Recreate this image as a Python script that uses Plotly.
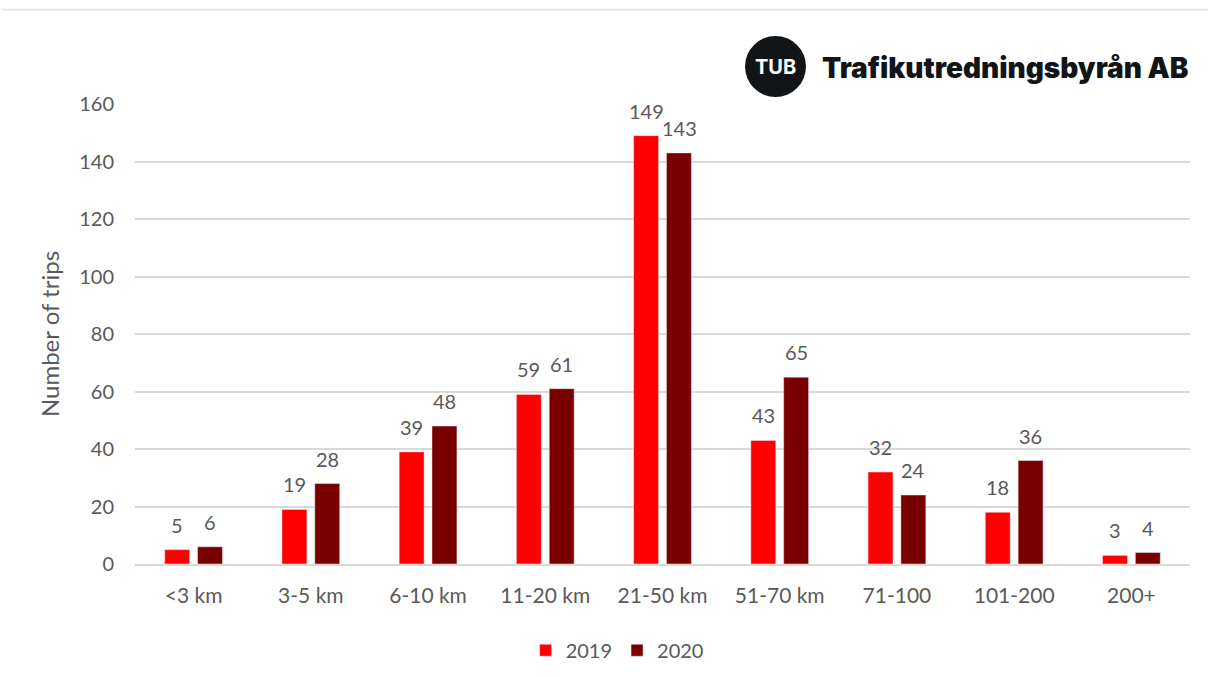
import plotly.graph_objects as go

categories = ["<3 km", "3-5 km", "6-10 km", "11-20 km", "21-50 km", "51-70 km", "71-100", "101-200", "200+"]
trips_2019 = [5, 19, 39, 59, 149, 43, 32, 18, 3]
trips_2020 = [6, 28, 48, 61, 143, 65, 24, 36, 4]
y_ticks = [0, 20, 40, 60, 80, 100, 120, 140, 160]

FONT = "Lato, 'Open Sans', sans-serif"
GRAY = "#595959"
LOGO_FONT = "Inter, Lato, sans-serif"

fig = go.Figure()
fig.add_trace(go.Bar(name="2019", x=categories, y=trips_2019, marker_color="#FF0000"))
fig.add_trace(go.Bar(name="2020", x=categories, y=trips_2020, marker_color="#7A0000"))

# data labels above each bar
for series, shift in ((trips_2019, -16.5), (trips_2020, 16.5)):
    for cat, val in zip(categories, series):
        fig.add_annotation(x=cat, y=val, xref="x", yref="y", text=str(val),
                           showarrow=False, xshift=shift, yshift=25,
                           xanchor="center", yanchor="middle",
                           font=dict(size=20, color=GRAY, family=FONT))

fig.update_layout(
    width=1208, height=677,
    margin=dict(l=135, r=18, t=104, b=113, autoexpand=False),
    paper_bgcolor="white", plot_bgcolor="white",
    barmode="group", bargap=0.44, bargroupgap=0.24,
    font=dict(family=FONT, color=GRAY, size=20),
    showlegend=True,
    legend=dict(orientation="h", x=0.457, xanchor="center", y=-0.145, yanchor="top",
                font=dict(size=20, color=GRAY, family=FONT), itemwidth=30,
                traceorder="normal"),
    xaxis=dict(showgrid=False, showline=True, linecolor="#D9D9D9", linewidth=1.5,
               tickfont=dict(size=21, color=GRAY), ticks="", ticklabelstandoff=12,
               automargin=False),
    yaxis=dict(range=[0, 160], tickvals=y_ticks, showgrid=True, gridcolor="#D9D9D9",
               gridwidth=1.5, zeroline=False, showline=False, ticks="",
               tickfont=dict(size=20, color=GRAY), ticklabelstandoff=20, automargin=False,
               title=dict(text="Number of trips", font=dict(size=24, color=GRAY), standoff=12)),
)

# top thin rule
fig.add_shape(type="line", xref="paper", yref="paper", x0=-0.125, x1=1.02,
              y0=1.205, y1=1.205, line=dict(color="#E6E6E6", width=2))

# logo
fig.add_shape(type="circle", xref="paper", yref="paper",
              x0=(745 - 135) / 1055, x1=(806 - 135) / 1055,
              y0=(564 - 97) / 460, y1=(564 - 36) / 460,
              fillcolor="#111518", line=dict(color="#111518", width=0))
fig.add_annotation(xref="paper", yref="paper", x=(775.5 - 135) / 1055, y=(564 - 67) / 460,
                   xanchor="center", yanchor="middle",
                   text="<b>TUB</b>", showarrow=False,
                   font=dict(family=LOGO_FONT, size=20, color="white", weight=900))
fig.add_annotation(xref="paper", yref="paper", x=(1191 - 135) / 1055, y=(564 - 68) / 460,
                   xanchor="right", yanchor="middle", text="Trafikutredningsbyrån AB", showarrow=False,
                   font=dict(family=LOGO_FONT, size=28, color="#111518", weight=900))

fig.write_html("out.html")
